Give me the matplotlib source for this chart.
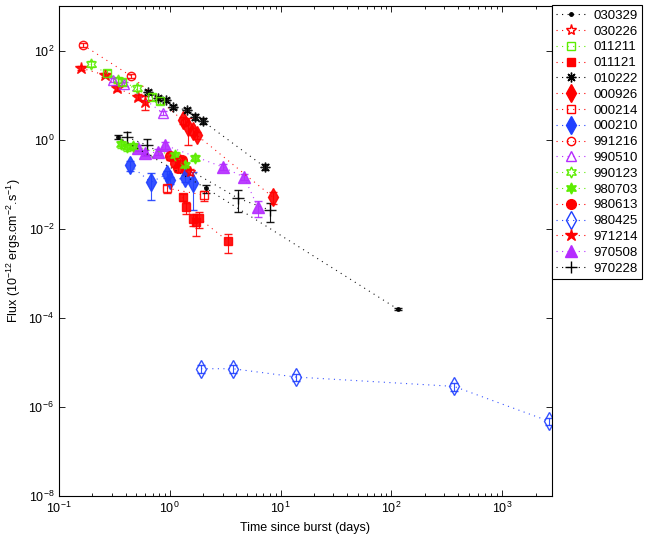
import numpy as np
import matplotlib.pyplot as plt
from matplotlib.lines import Line2D
from matplotlib.ticker import LogLocator, NullFormatter, NullLocator

plt.rcParams['font.family'] = ['Liberation Sans', 'DejaVu Sans']
plt.rcParams['mathtext.fontset'] = 'custom'
plt.rcParams['mathtext.rm'] = 'Liberation Sans'

# time since burst (days), flux (1e-12 erg/cm2/s), fractional error
t_030329 = [0.34, 2.12, 115.0]
f_030329 = [1.14, 0.0813, 1.55e-4]
e_030329 = [0.1, 0.2, 0.05]

t_030226 = [1.24, 1.52]
f_030226 = [0.346, 0.186]
e_030226 = [0.15, 0.15]

t_011211 = [0.271, 0.371, 0.69, 0.816]
f_011211 = [31.2, 19.6, 9.0, 7.33]
e_011211 = [0.15, 0.15, 0.15, 0.15]

t_011121 = [1.31, 1.40, 1.62, 1.72, 1.84, 3.35]
f_011121 = [0.0511, 0.0304, 0.0163, 0.0140, 0.0172, 0.00524]
e_011121 = [0.2, 0.3, 0.3, 0.5, 0.4, 0.45]

t_010222 = [0.635, 0.783, 0.925, 1.07, 1.43, 1.69, 1.99, 7.23]
f_010222 = [11.7, 8.57, 7.73, 5.37, 4.60, 3.21, 2.61, 0.241]
e_010222 = [0.1, 0.1, 0.1, 0.1, 0.1, 0.15, 0.15, 0.15]

t_000926 = [1.31, 1.46, 1.62, 1.76, 8.53]
f_000926 = [2.74, 1.91, 1.55, 1.26, 0.0511]
e_000926 = [0.2, 0.6, 0.2, 0.2, 0.3]

t_000214 = [0.944, 2.04]
f_000214 = [0.0813, 0.0566]
e_000214 = [0.2, 0.25]

t_000210 = [0.438, 0.676, 0.944, 1.00, 1.37, 1.62]
f_000210 = [0.267, 0.111, 0.168, 0.123, 0.137, 0.105]
e_000210 = [0.25, 0.6, 0.2, 0.2, 0.2, 0.75]

t_991216 = [0.165, 0.447, 1.37]
f_991216 = [133.0, 26.7, 2.47]
e_991216 = [0.1, 0.1, 0.15]

t_990510 = [0.307, 0.386, 0.869]
f_990510 = [21.7, 17.7, 3.94]
e_990510 = [0.1, 0.1, 0.1]

t_990123 = [0.194, 0.34, 0.506]
f_990123 = [49.8, 21.7, 14.4]
e_990123 = [0.15, 0.15, 0.15]

t_980703 = [0.363, 0.411, 0.466, 1.11, 1.37, 1.69]
f_980703 = [0.792, 0.677, 0.714, 0.449, 0.267, 0.384]
e_980703 = [0.2, 0.2, 0.2, 0.15, 0.15, 0.15]

t_980613 = [1.00, 1.11, 1.19, 1.29, 1.40]
f_980613 = [0.426, 0.297, 0.229, 0.346, 0.207]
e_980613 = [0.2, 0.2, 0.2, 0.2, 0.2]

t_980425 = [1.92, 3.70, 13.8, 367.0, 2630.0]
f_980425 = [7.2e-6, 7.2e-6, 4.68e-6, 2.89e-6, 4.8e-7]
e_980425 = [0.2, 0.2, 0.2, 0.2, 0.2]

t_971214 = [0.158, 0.26, 0.333, 0.516, 0.597]
f_971214 = [40.5, 28.1, 14.4, 9.0, 6.97]
e_971214 = [0.1, 0.1, 0.15, 0.15, 0.35]

t_970508 = [0.516, 0.597, 0.783, 0.906, 3.02, 4.68, 6.25]
f_970508 = [0.644, 0.498, 0.524, 0.752, 0.241, 0.144, 0.0304]
e_970508 = [0.15, 0.15, 0.15, 0.2, 0.15, 0.15, 0.4]

t_970228 = [0.411, 0.622, 4.13, 8.02]
f_970228 = [1.14, 0.752, 0.0484, 0.0261]
e_970228 = [0.3, 0.4, 0.5, 0.45]

red = '#ff0000'
green = '#5ced00'
blue = '#2040ff'
purple = '#b52cff'
black = '#000000'

# label, t, f, err, marker, colour, filled, size
series = [
    ('030329', t_030329, f_030329, e_030329, '.', black, True, 5),
    ('030226', t_030226, f_030226, e_030226, '*', red, False, 8),
    ('011211', t_011211, f_011211, e_011211, 's', green, False, 6),
    ('011121', t_011121, f_011121, e_011121, 's', red, True, 6),
    ('010222', t_010222, f_010222, e_010222, (8, 2, 0), black, True, 7),
    ('000926', t_000926, f_000926, e_000926, 'd', red, True, 9),
    ('000214', t_000214, f_000214, e_000214, 's', red, False, 6),
    ('000210', t_000210, f_000210, e_000210, 'd', blue, True, 9),
    ('991216', t_991216, f_991216, e_991216, 'o', red, False, 6),
    ('990510', t_990510, f_990510, e_990510, '^', purple, False, 7),
    ('990123', t_990123, f_990123, e_990123, (6, 1, 0), green, False, 8),
    ('980703', t_980703, f_980703, e_980703, (6, 1, 0), green, True, 8),
    ('980613', t_980613, f_980613, e_980613, 'o', red, True, 7),
    ('980425', t_980425, f_980425, e_980425, 'd', blue, False, 9),
    ('971214', t_971214, f_971214, e_971214, '*', red, True, 9),
    ('970508', t_970508, f_970508, e_970508, '^', purple, True, 8),
    ('970228', t_970228, f_970228, e_970228, '+', black, True, 8),
]

fig = plt.figure(figsize=(6.5, 5.41), dpi=100)
ax = fig.add_axes([59 / 650, 1 - 496 / 541, (551.7 - 59) / 650, 490 / 541])

handles = []
for name, t, f, e, mk, c, filled, ms in series[::-1]:
    f = np.array(f)
    e = np.array(e)
    mfc = c if filled else 'none'
    ax.errorbar(t, f, yerr=[f * e, f * e], marker=mk, ls=(0, (1, 4)), lw=0.8,
                color=c, mfc=mfc, mec=c, ms=ms, mew=1.0,
                ecolor=c, elinewidth=0.8, capsize=3, alpha=0.9)
for name, t, f, e, mk, c, filled, ms in series:
    mfc = c if filled else 'none'
    handles.append(Line2D([], [], marker=mk, ls=(0, (1, 4)), lw=0.8, color=c,
                          mfc=mfc, mec=c, ms=ms, mew=1.0, label=name))

ax.set_xscale('log')
ax.set_yscale('log')
ax.set_xlim(0.1, 2800)
ax.set_ylim(1e-8, 1e3)
ax.set_yticks([1e-8, 1e-6, 1e-4, 1e-2, 1e0, 1e2])
ax.yaxis.set_minor_locator(NullLocator())
ax.xaxis.set_minor_locator(LogLocator(base=10, subs=np.arange(2, 10), numticks=20))
ax.xaxis.set_minor_formatter(NullFormatter())
ax.tick_params(which='both', direction='in', top=True, right=True, labelsize=9)
ax.tick_params(which='major', length=4, width=0.6)
ax.tick_params(which='minor', length=2.5, width=0.6)
for s in ax.spines.values():
    s.set_linewidth(0.8)

ax.set_xlabel('Time since burst (days)', fontsize=9)
ax.set_ylabel('Flux (10$^{-12}$ ergs.cm$^{-2}$.s$^{-1}$)', fontsize=9)

leg = ax.legend(handles=handles, loc='upper left', bbox_to_anchor=(1.0, 1.002),
                borderaxespad=0, fontsize=9.5, labelspacing=0.27,
                handlelength=2.3, handletextpad=0.5, borderpad=0.35,
                fancybox=False, framealpha=1, edgecolor='black')
leg.get_frame().set_linewidth(0.8)

fig.savefig('out.png', dpi=100)
